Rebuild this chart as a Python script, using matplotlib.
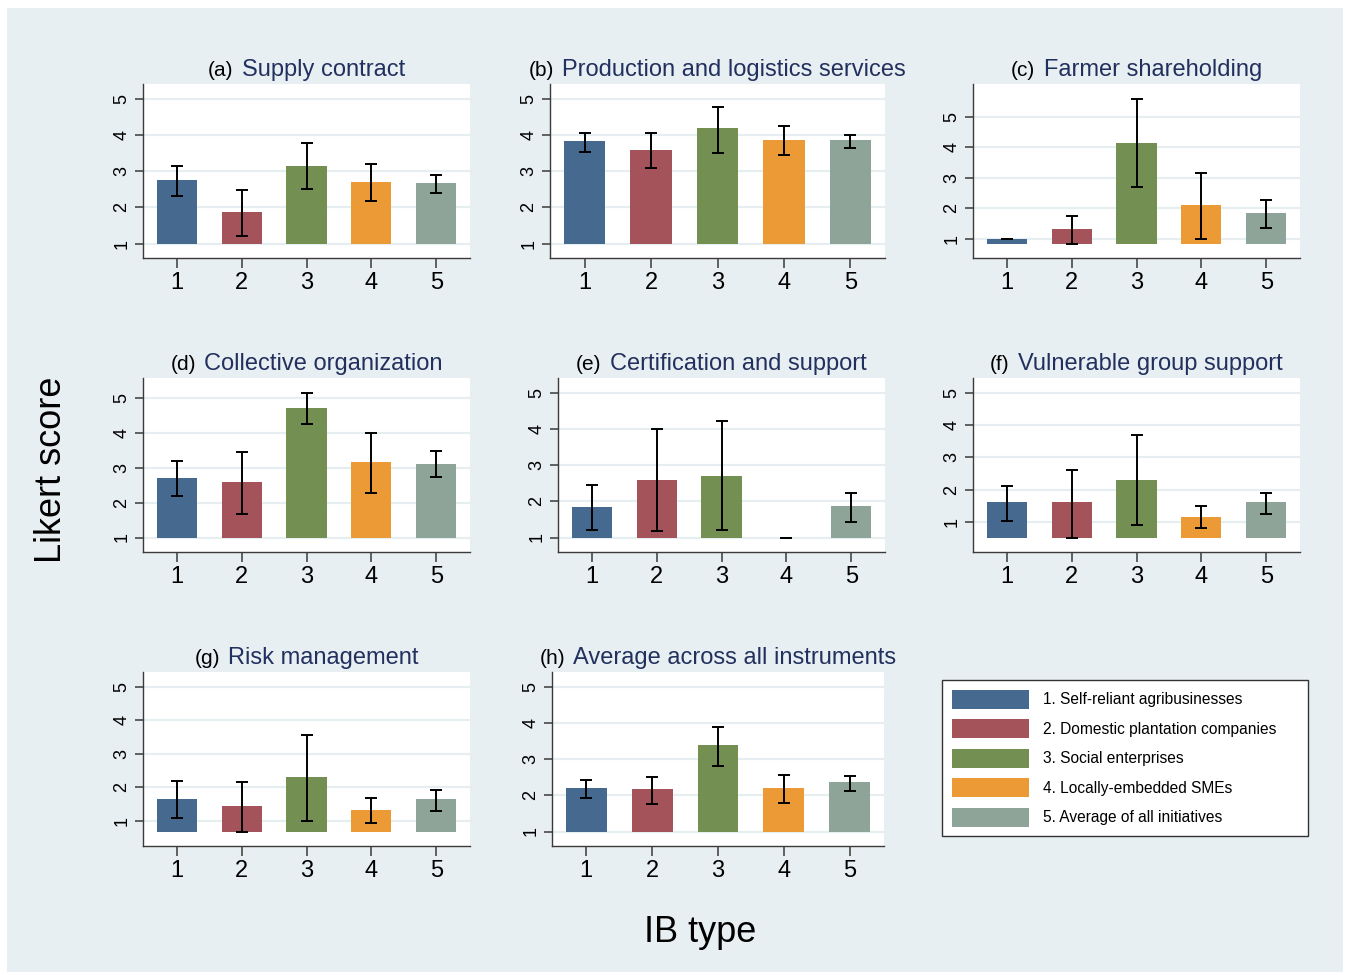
import matplotlib
matplotlib.use("Agg")
import matplotlib.pyplot as plt
from matplotlib.patches import Patch, Rectangle
from matplotlib.offsetbox import TextArea, HPacker, AnchoredOffsetbox

plt.rcParams["font.family"] = ["Liberation Sans", "DejaVu Sans"]

# ---- data ----
ib_types = [1, 2, 3, 4, 5]
ib_labels = [
    "1. Self-reliant agribusinesses",
    "2. Domestic plantation companies",
    "3. Social enterprises",
    "4. Locally-embedded SMEs",
    "5. Average of all initiatives",
]
panel_tags = ["(a)", "(b)", "(c)", "(d)", "(e)", "(f)", "(g)", "(h)"]
panel_titles = [
    "Supply contract",
    "Production and logistics services",
    "Farmer shareholding",
    "Collective organization",
    "Certification and support",
    "Vulnerable group support",
    "Risk management",
    "Average across all instruments",
]

supply_mean = [2.76, 1.88, 3.15, 2.71, 2.67]
supply_lo = [2.31, 1.20, 2.50, 2.16, 2.39]
supply_hi = [3.15, 2.48, 3.77, 3.19, 2.90]

logistics_mean = [3.82, 3.59, 4.18, 3.86, 3.86]
logistics_lo = [3.53, 3.08, 3.50, 3.43, 3.64]
logistics_hi = [4.04, 4.04, 4.77, 4.25, 4.00]

shareholding_mean = [1.00, 1.33, 4.15, 2.10, 1.84]
shareholding_lo = [1.00, 0.85, 2.69, 1.01, 1.37]
shareholding_hi = [1.00, 1.75, 5.59, 3.14, 2.28]

collective_mean = [2.71, 2.58, 4.72, 3.16, 3.11]
collective_lo = [2.18, 1.67, 4.25, 2.29, 2.73]
collective_hi = [3.19, 3.46, 5.16, 4.00, 3.48]

certification_mean = [1.84, 2.59, 2.71, 1.00, 1.88]
certification_lo = [1.20, 1.17, 1.22, 1.00, 1.44]
certification_hi = [2.46, 3.98, 4.21, 1.00, 2.23]

vulnerable_mean = [1.61, 1.61, 2.31, 1.17, 1.61]
vulnerable_lo = [1.04, 0.53, 0.92, 0.81, 1.26]
vulnerable_hi = [2.13, 2.62, 3.68, 1.51, 1.90]

risk_mean = [1.65, 1.45, 2.30, 1.31, 1.65]
risk_lo = [1.08, 0.68, 1.00, 0.92, 1.29]
risk_hi = [2.17, 2.15, 3.56, 1.68, 1.92]

average_mean = [2.20, 2.16, 3.38, 2.20, 2.36]
average_lo = [1.93, 1.76, 2.81, 1.78, 2.13]
average_hi = [2.43, 2.49, 3.89, 2.55, 2.54]

means = [supply_mean, logistics_mean, shareholding_mean, collective_mean,
         certification_mean, vulnerable_mean, risk_mean, average_mean]
lows = [supply_lo, logistics_lo, shareholding_lo, collective_lo,
        certification_lo, vulnerable_lo, risk_lo, average_lo]
highs = [supply_hi, logistics_hi, shareholding_hi, collective_hi,
         certification_hi, vulnerable_hi, risk_hi, average_hi]

colors = ["#46698f", "#a5535b", "#738f52", "#ec9a36", "#8ea499"]
W, H = 1346, 975

# panel boxes in pixels: left, right, top, bottom
boxes = [
    (143, 470, 84, 258), (550, 885, 84, 258), (973, 1300, 84, 258),
    (143, 470, 378, 552), (558, 885, 378, 552), (973, 1300, 378, 552),
    (143, 470, 672, 846), (552, 884, 672, 846),
]

fig = plt.figure(figsize=(W / 100, H / 100), dpi=100, facecolor="white")
fig.patches.append(Rectangle((7 / W, 3 / H), 1336 / W, 964 / H,
                             transform=fig.transFigure, facecolor="#e8eff2",
                             edgecolor="none", zorder=-10))

for i, (l, r, t, b) in enumerate(boxes):
    ax = fig.add_axes([l / W, 1 - b / H, (r - l) / W, (b - t) / H])
    ax.set_facecolor("white")
    m, lo, hi = means[i], lows[i], highs[i]
    base = min(1, min(lo))
    top = max(5, max(hi))
    pad = 0.1 * (top - base)
    heights = [v - base for v in m]
    ax.bar(ib_types, heights, bottom=base, width=0.62, color=colors, zorder=2)
    yerr = [[v - a for v, a in zip(m, lo)], [c - v for v, c in zip(m, hi)]]
    ax.errorbar(ib_types, m, yerr=yerr, fmt="none", ecolor="black",
                elinewidth=1.4, capsize=4.5, capthick=1.4, zorder=3)
    ax.set_xlim(0.48, 5.52)
    ax.set_ylim(base - pad, top + pad)
    ax.set_xticks(ib_types)
    ax.set_yticks([1, 2, 3, 4, 5])
    ax.grid(axis="y", color="#e6eef1", linewidth=1.6, zorder=0)
    ax.set_axisbelow(True)
    for s in ["top", "right"]:
        ax.spines[s].set_visible(False)
    for s in ["left", "bottom"]:
        ax.spines[s].set_color("#3a3a3a")
        ax.spines[s].set_linewidth(1.0)
    ax.tick_params(axis="x", labelsize=17, length=7, width=1.1, color="#3a3a3a", pad=3)
    ax.tick_params(axis="y", labelsize=13, length=6, width=1.1, color="#3a3a3a",
                   labelrotation=90, pad=3)
    for lab in ax.get_yticklabels():
        lab.set_verticalalignment("center")

    tag = TextArea(panel_tags[i], textprops=dict(fontsize=15, color="black"))
    name = TextArea(panel_titles[i], textprops=dict(fontsize=17, color="#22305e"))
    pack = HPacker(children=[tag, name], align="baseline", pad=0, sep=6)
    title_box = AnchoredOffsetbox(loc="lower center", child=pack, pad=0, frameon=False,
                                  bbox_to_anchor=(0.5, 1.02), bbox_transform=ax.transAxes,
                                  borderpad=0)
    ax.add_artist(title_box)

handles = [Patch(facecolor=c, edgecolor="none") for c in colors]
leg = fig.legend(handles, ib_labels, loc="upper left",
                 bbox_to_anchor=(942 / W, 1 - 680 / H, 366 / W, 0.0), mode="expand",
                 fontsize=11.2, handlelength=5.0, handleheight=1.5, labelspacing=0.68,
                 handletextpad=0.85, borderpad=0.62, borderaxespad=0, fancybox=False,
                 framealpha=1, facecolor="white", edgecolor="#333333")
leg.get_frame().set_linewidth(1.0)

fig.text(52 / W, 1 - 470 / H, "Likert score", rotation=90, fontsize=26,
         ha="center", va="center")
fig.text(700 / W, 1 - 932 / H, "IB type", fontsize=26, ha="center", va="center")

fig.savefig("out.png", dpi=100, facecolor=fig.get_facecolor())
